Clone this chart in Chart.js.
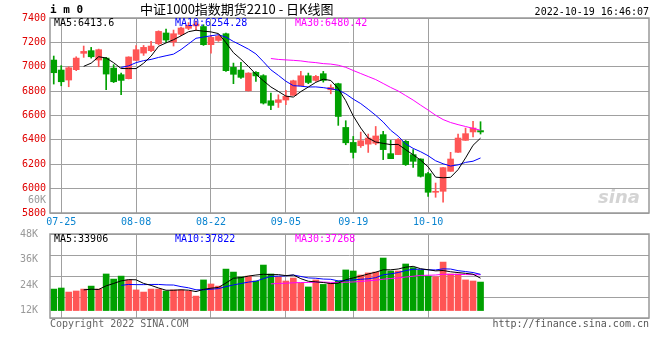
<!DOCTYPE html>
<html>
<head>
<meta charset="utf-8">
<script src="https://cdn.jsdelivr.net/npm/chart.js@4.4.0/dist/chart.umd.min.js"></script>
<style>
body { margin: 0; background: #fff; }
#wrap { position: relative; width: 660px; height: 360px; overflow: hidden; font-family: "DejaVu Sans Mono", monospace; font-size: 10px; }
canvas { position: absolute; left: 0; }
.t { position: absolute; white-space: pre; line-height: 12px; }
</style>
</head>
<body>
<div id="wrap">
  <canvas id="k" width="660" height="232" style="top:0"></canvas>
  <canvas id="v" width="660" height="146" style="top:214px"></canvas>

  <div class="t" style="left:50px;top:4px;font-weight:bold;font-size:11px">i m 0</div>
  <div class="t" style="left:140px;top:1px;line-height:16px;font-size:13px;font-family:'Noto Sans CJK SC',sans-serif">中证1000指数期货2210 - 日K线图</div>
  <div class="t" style="right:11px;top:6px">2022-10-19 16:46:07</div>

  <div class="t" style="left:54px;top:17px;color:#000">MA5:6413.6</div>
  <div class="t" style="left:175px;top:17px;color:#0000ff">MA10:6254.28</div>
  <div class="t" style="left:295px;top:17px;color:#ff00ff">MA30:6480.42</div>

  <div class="t" style="right:614px;top:194px;color:#999;text-align:right">60K</div>
  <div class="t" style="left:598px;top:186px;font-size:18px;line-height:22px;font-style:italic;font-weight:bold;color:#d4d4d4;font-family:'DejaVu Sans',sans-serif">sina</div>

  <div class="t" style="left:54px;top:233px;color:#000">MA5:33906</div>
  <div class="t" style="left:175px;top:233px;color:#0000ff">MA10:37822</div>
  <div class="t" style="left:295px;top:233px;color:#ff00ff">MA30:37268</div>

  <div class="t" style="left:50px;top:318px;color:#666">Copyright 2022 SINA.COM</div>
  <div class="t" style="right:11px;top:318px;color:#555">http://finance.sina.com.cn</div>
</div>

<script>
// IM2210 daily bars
const dates = ['07-22','07-25','07-26','07-27','07-28','07-29',
  '08-01','08-02','08-03','08-04','08-05','08-08','08-09','08-10','08-11','08-12',
  '08-15','08-16','08-17','08-18','08-19','08-22','08-23','08-24','08-25','08-26',
  '08-29','08-30','08-31','09-01','09-02','09-05','09-06','09-07','09-08','09-09',
  '09-13','09-14','09-15','09-16','09-19','09-20','09-21','09-22','09-23',
  '09-26','09-27','09-28','09-29','09-30','10-10','10-11','10-12','10-13','10-14',
  '10-17','10-18','10-19'];

const open  = [7055,6973,6891,6976,7110,7132,7055,7071,6989,6935,
               6902,7052,7112,7132,7189,7277,7203,7266,7315,7335,
               7330,7181,7216,7271,6995,6973,6803,6954,6927,6721,
               6707,6727,6765,6844,6926,6888,6943,6811,6861,6502,
               6379,6352,6365,6372,6443,6287,6279,6388,6279,6243,
               6123,5970,5978,6142,6298,6396,6465,6476];
const high  = [7088,7009,7000,7082,7170,7159,7145,7077,7017,6948,
               7082,7173,7175,7208,7295,7309,7301,7326,7362,7375,
               7345,7257,7263,7277,7030,7036,6951,6960,6935,6784,
               6770,6806,6890,6962,6948,6929,6962,6852,6865,6557,
               6428,6464,6448,6510,6470,6396,6410,6395,6320,6245,
               6134,6046,6172,6298,6448,6497,6552,6549];
const low   = [6858,6844,6836,6968,7077,7071,7000,6812,6870,6771,
               6900,7050,7093,7123,7180,7200,7170,7255,7304,7300,
               7175,7112,7208,6962,6861,6905,6800,6880,6694,6647,
               6666,6688,6765,6844,6861,6880,6874,6778,6519,6360,
               6251,6338,6297,6360,6238,6246,6279,6190,6175,6095,
               5937,5929,5888,6142,6298,6396,6424,6448];
const close = [6951,6877,6992,7071,7126,7082,7140,6940,6877,6888,
               7080,7140,7159,7170,7290,7219,7271,7318,7340,7350,
               7181,7241,7249,6968,6938,6913,6948,6925,6702,6683,
               6729,6757,6885,6926,6871,6921,6888,6830,6592,6376,
               6297,6393,6415,6432,6320,6246,6402,6197,6224,6101,
               5970,5978,6172,6243,6415,6451,6497,6465];
const volume = [22100,22600,20700,21200,22100,23500,22100,29200,26800,28200,
                26400,21700,20700,22100,22100,21200,21700,21700,21200,18800,
                26400,24500,23500,31500,30100,27800,28200,25900,33400,29200,
                27800,25900,27300,24800,23100,26400,24300,24800,25900,31100,
                30600,28700,29700,30100,36700,30600,30600,33900,32200,31100,
                28200,27900,34800,29200,29200,26400,25900,25400];

const xTickDates = ['07-25','08-08','08-22','09-05','09-19','10-10'];
const volTicks = [12000, 24000, 36000, 48000];

const UP = '#ff5555', DOWN = '#00a000';
const GRID = '#a0a0a0';
const DASH = [1, 1];
const FONT = {family: 'DejaVu Sans Mono', size: 10};

function ma(src, n) {
  return src.map((v, i) => {
    if (i < n - 1) return null;
    let s = 0;
    for (let j = i - n + 1; j <= i; j++) s += src[j];
    return s / n;
  });
}
const pts = arr => arr.map((v, i) => ({x: i, y: v}));
const colors = close.map((c, i) => c >= open[i] ? UP : DOWN);
const xTicks = s => { s.ticks = xTickDates.map(d => ({value: dates.indexOf(d)})); };

const frame = {
  id: 'frame',
  afterDraw(chart) {
    const a = chart.chartArea, ctx = chart.ctx;
    ctx.save();
    ctx.strokeStyle = '#999';
    ctx.lineWidth = 1.5;
    ctx.strokeRect(a.left, a.top, a.right - a.left, a.bottom - a.top);
    ctx.restore();
  }
};

function maLine(data, color) {
  return {type: 'line', data: pts(data), borderColor: color, borderWidth: 1,
          pointRadius: 0, fill: false, order: 0, tension: 0};
}

new Chart(document.getElementById('k'), {
  type: 'bar',
  data: {
    datasets: [
      {data: dates.map((d, i) => ({x: i, y: [low[i], high[i]]})),
       backgroundColor: colors, barThickness: 1, grouped: false, order: 2},
      {data: dates.map((d, i) => ({x: i, y: [open[i], close[i]]})),
       backgroundColor: colors, barThickness: 6, grouped: false, minBarLength: 1, order: 1},
      maLine(ma(close, 5), '#000000'),
      maLine(ma(close, 10), '#0000ff'),
      maLine(ma(close, 30), '#ff00ff')
    ]
  },
  options: {
    animation: false, responsive: false, devicePixelRatio: 1,
    layout: {padding: {top: 18, right: 11, left: 0, bottom: 0}},
    plugins: {legend: {display: false}, tooltip: {enabled: false}},
    scales: {
      x: {
        type: 'linear', min: -0.5, max: 79.5, offset: false,
        afterBuildTicks: xTicks,
        afterFit: s => { s.height = 19; },
        grid: {color: GRID, borderDash: DASH, drawTicks: false, offset: false},
        border: {display: false},
        ticks: {autoSkip: false, maxRotation: 0, padding: 3, color: '#0a84d0', font: FONT,
                callback: v => dates[v]}
      },
      y: {
        min: 5800, max: 7400,
        afterFit: s => { s.width = 50; },
        grid: {color: GRID, borderDash: DASH, drawTicks: false},
        border: {display: false},
        ticks: {stepSize: 200, padding: 4, color: '#e00000', font: FONT, callback: v => String(v)}
      }
    }
  },
  plugins: [frame]
});

new Chart(document.getElementById('v'), {
  type: 'bar',
  data: {
    datasets: [
      {data: pts(volume), backgroundColor: colors, barThickness: 6, base: 12000, order: 1, yAxisID: 'y'},
      Object.assign(maLine(ma(volume, 5), '#000000'), {yAxisID: 'y'}),
      Object.assign(maLine(ma(volume, 10), '#0000ff'), {yAxisID: 'y'}),
      Object.assign(maLine(ma(volume, 30), '#ff00ff'), {yAxisID: 'y'})
    ]
  },
  options: {
    animation: false, responsive: false, devicePixelRatio: 1,
    layout: {padding: {top: 20, right: 11, left: 0, bottom: 42}},
    plugins: {legend: {display: false}, tooltip: {enabled: false}},
    scales: {
      x: {
        type: 'linear', min: -0.5, max: 79.5, offset: false,
        afterBuildTicks: xTicks,
        afterFit: s => { s.height = 0; },
        grid: {color: GRID, borderDash: DASH, drawTicks: false, offset: false},
        border: {display: false},
        ticks: {display: false}
      },
      y: {
        min: 8500, max: 48000,
        afterBuildTicks: s => { s.ticks = volTicks.map(v => ({value: v})); },
        afterFit: s => { s.width = 50; },
        grid: {display: false},
        border: {display: false},
        ticks: {padding: 4, color: '#999', font: FONT, callback: v => (v / 1000) + 'K'}
      },
      yg: {
        position: 'left', min: 0, max: 4,
        afterFit: s => { s.width = 0; },
        grid: {color: GRID, borderDash: DASH, drawTicks: false},
        border: {display: false},
        ticks: {display: false, stepSize: 1}
      }
    }
  },
  plugins: [frame]
});
</script>
</body>
</html>
